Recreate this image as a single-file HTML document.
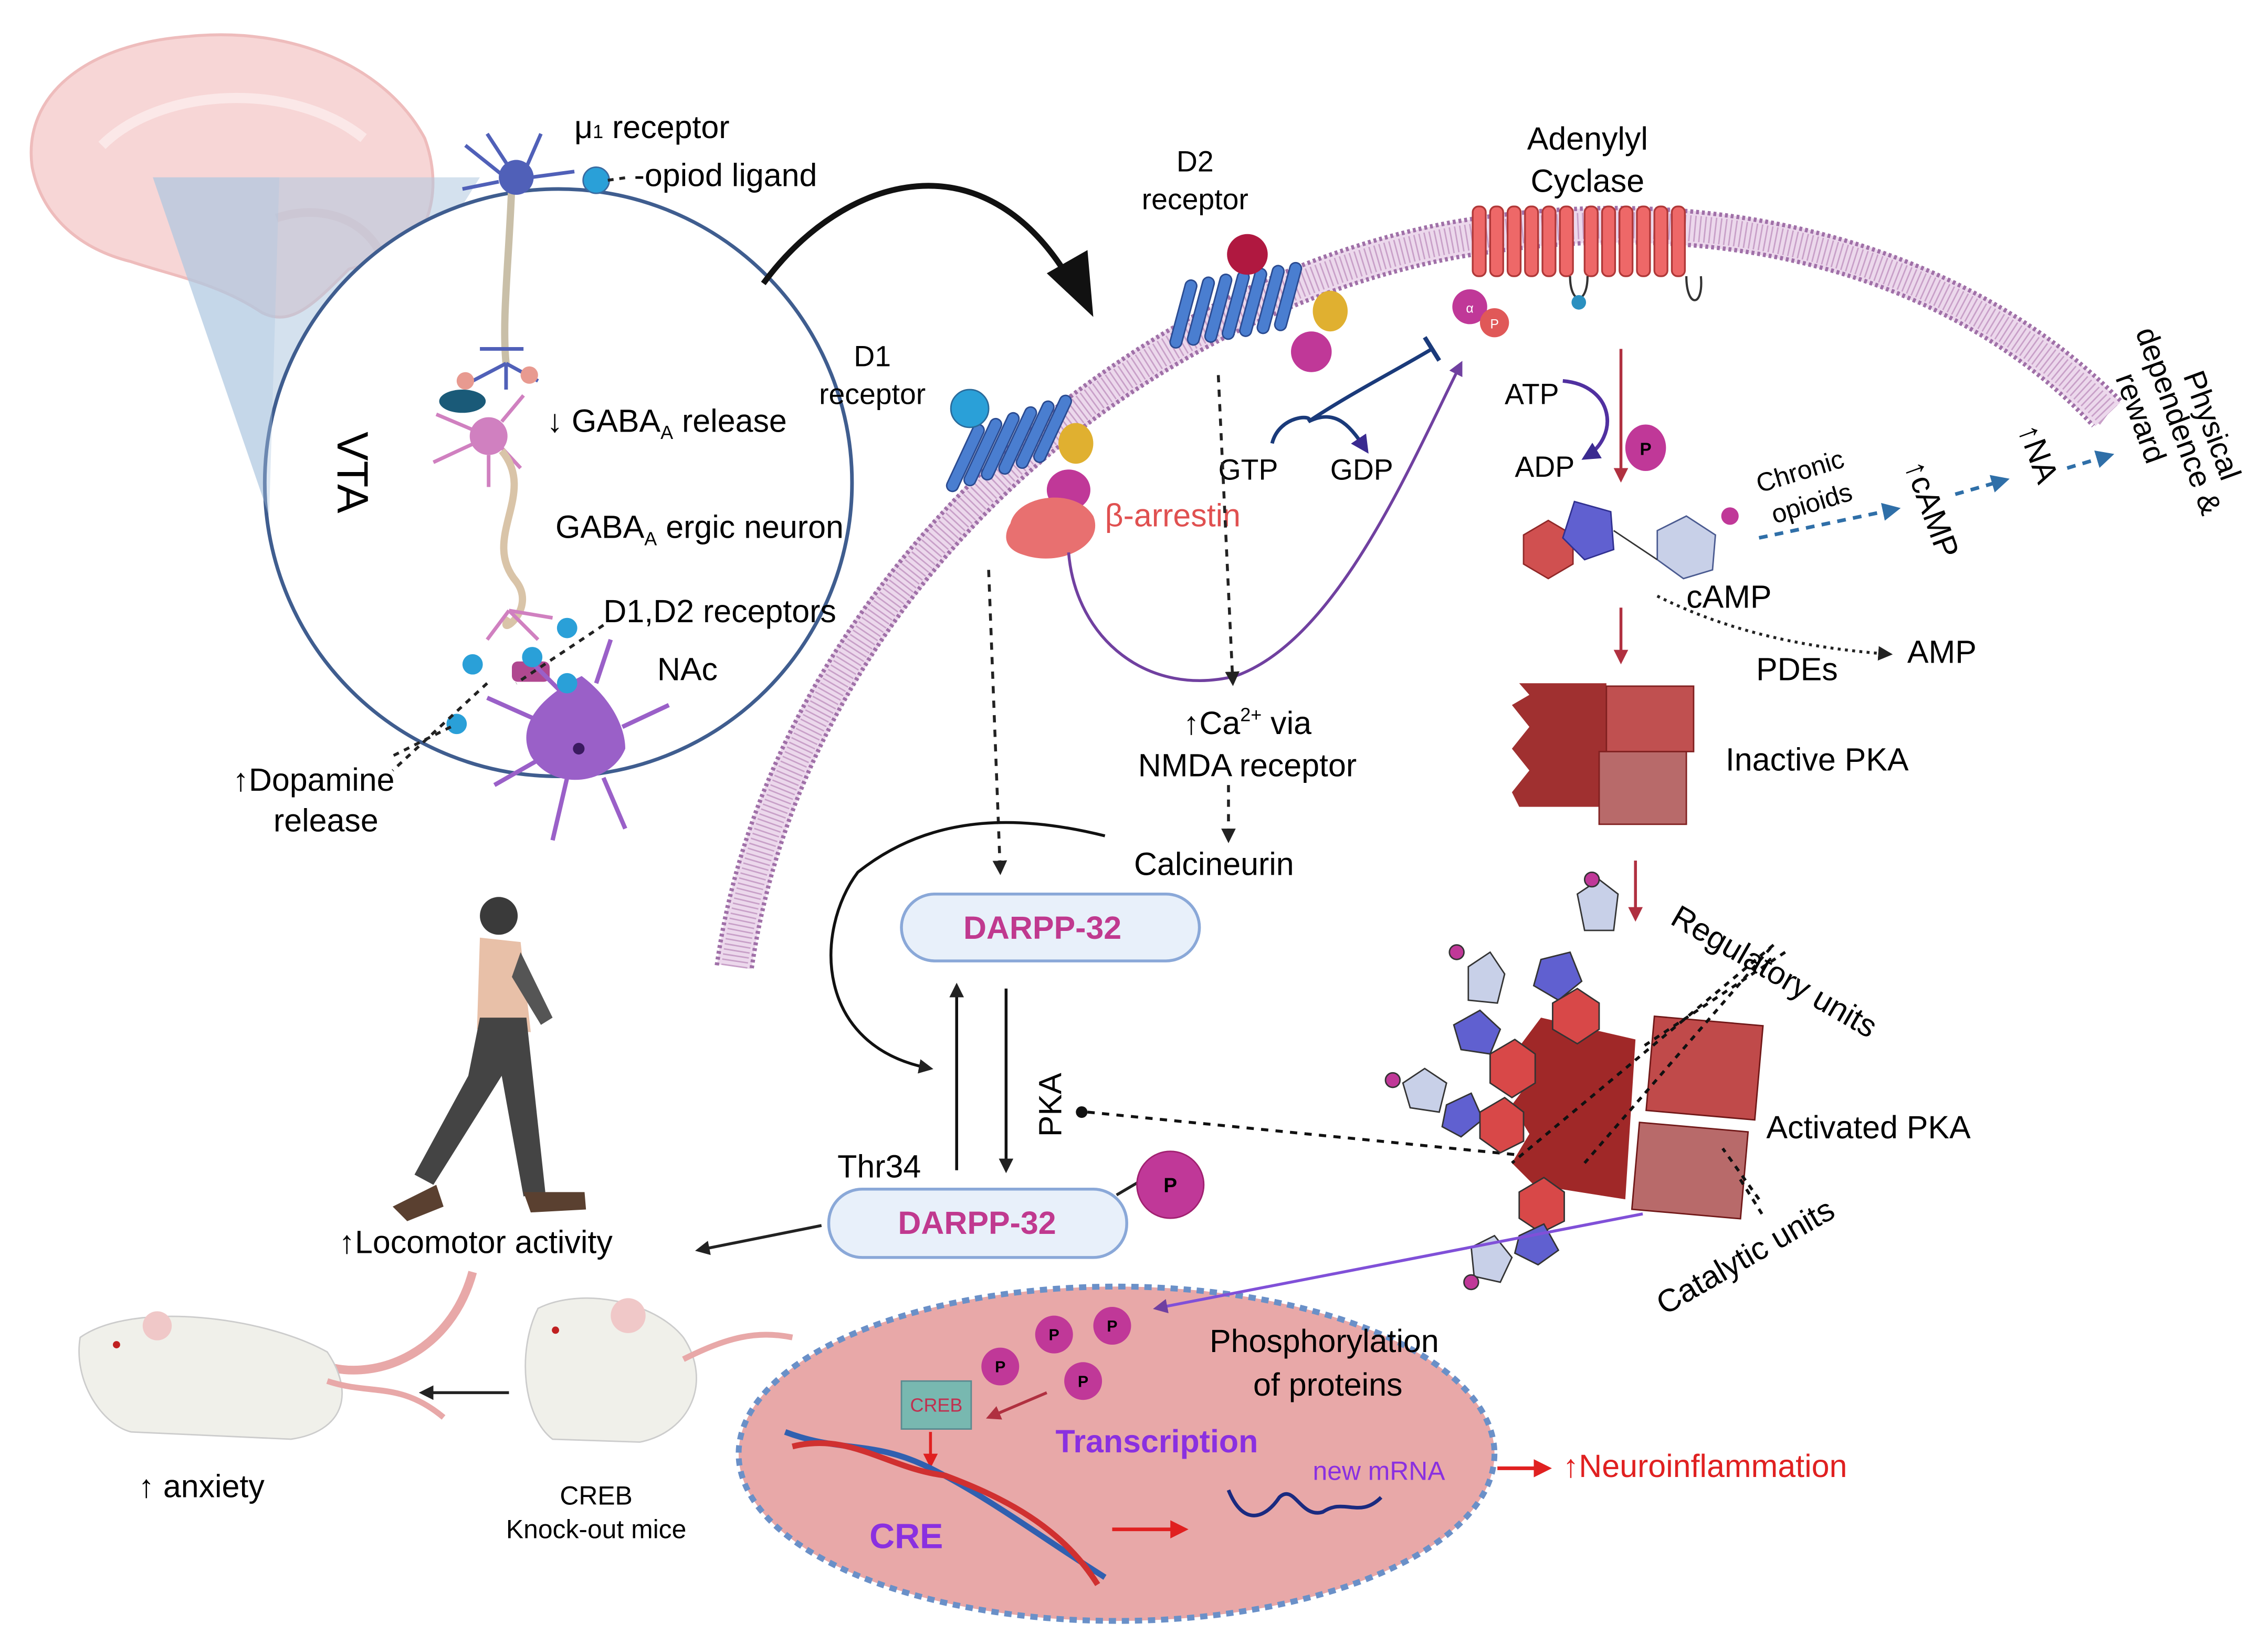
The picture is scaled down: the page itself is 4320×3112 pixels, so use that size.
<!DOCTYPE html>
<html><head><meta charset="utf-8"><style>html,body{margin:0;padding:0;background:#fff}svg{display:block}</style></head>
<body>
<svg xmlns="http://www.w3.org/2000/svg" width="4320" height="3112" viewBox="0 0 1560 1124" font-family="Liberation Sans, sans-serif">
<defs>
<marker id="ab" viewBox="0 0 10 10" refX="8" refY="5" markerWidth="5" markerHeight="5" orient="auto"><path d="M0,0L10,5L0,10z" fill="#222"/></marker>
<marker id="ar" viewBox="0 0 10 10" refX="8" refY="5" markerWidth="5" markerHeight="5" orient="auto"><path d="M0,0L10,5L0,10z" fill="#b03040"/></marker>
<marker id="aR" viewBox="0 0 10 10" refX="8" refY="5" markerWidth="5" markerHeight="5" orient="auto"><path d="M0,0L10,5L0,10z" fill="#e02020"/></marker>
<marker id="abl" viewBox="0 0 10 10" refX="8" refY="5" markerWidth="5" markerHeight="5" orient="auto"><path d="M0,0L10,5L0,10z" fill="#2f6fa8"/></marker>
<marker id="ap" viewBox="0 0 10 10" refX="8" refY="5" markerWidth="5" markerHeight="5" orient="auto"><path d="M0,0L10,5L0,10z" fill="#7040a0"/></marker>
<marker id="adk" viewBox="0 0 10 10" refX="8" refY="5" markerWidth="5" markerHeight="5" orient="auto"><path d="M0,0L10,5L0,10z" fill="#3a2a90"/></marker>
</defs>
<rect width="1560" height="1124" fill="#fff"/>
<!-- brain -->
<path d="M22,115 C15,65 60,30 130,25 C200,18 265,45 292,95 C305,130 295,165 270,178 L240,185 C215,210 200,225 180,215 C150,195 120,190 90,180 C50,170 28,145 22,115z" fill="#f7d6d6" stroke="#eebcbc" stroke-width="2"/>
<path d="M70,100 C110,60 200,55 250,95" fill="none" stroke="#fbe8e8" stroke-width="7"/>
<path d="M190,150 C220,140 250,150 262,175" fill="none" stroke="#eec6c6" stroke-width="6"/>
<polygon points="105,122 330,122 185,355" fill="#b0c8e0" opacity="0.55"/>
<!-- VTA circle -->
<circle cx="384" cy="332" r="202" fill="#fff" stroke="#3f5d8f" stroke-width="2.5"/>
<polygon points="105,122 192,122 185,355" fill="#b0c8e0" opacity="0.4"/>
<!-- neurons -->
<path d="M352,125 C350,180 345,220 348,250" stroke="#c9bfa8" stroke-width="5" fill="none"/>
<circle cx="355" cy="122" r="12" fill="#5060b8"/>
<g stroke="#5060b8" stroke-width="2.5" fill="none"><path d="M345,120 L320,100 M350,115 L335,92 M362,115 L372,92 M365,122 L395,118 M343,125 L318,130 M348,250 L325,262 M348,250 L370,262 M348,250 L348,268 M330,240 L360,240"/></g>
<circle cx="410" cy="124" r="9" fill="#2aa0d8" stroke="#3a6aa0"/>
<circle cx="320" cy="262" r="6" fill="#e89a90"/><circle cx="364" cy="258" r="6" fill="#e89a90"/>
<ellipse cx="318" cy="276" rx="16" ry="8" fill="#1a5a78"/>
<circle cx="336" cy="300" r="13" fill="#d080c0"/>
<g stroke="#d080c0" stroke-width="2.5" fill="none"><path d="M326,296 L300,285 M326,305 L298,318 M345,290 L360,272 M345,308 L358,322 M336,313 L336,335"/></g>
<path d="M345,310 C370,340 330,370 355,400 C370,420 340,440 350,425" stroke="#d9c4a8" stroke-width="5" fill="none"/>
<g stroke="#d080c0" stroke-width="2.5" fill="none"><path d="M350,420 L335,440 M350,420 L370,440 M350,420 L380,425"/></g>
<rect x="352" y="455" width="26" height="14" rx="4" fill="#b04890"/>
<path d="M400,465 C420,480 430,500 430,515 C420,540 380,545 365,520 C355,500 370,480 400,465z" fill="#9a60c8"/>
<circle cx="398" cy="515" r="4" fill="#3a1a60"/>
<g stroke="#9a60c8" stroke-width="3" fill="none"><path d="M380,500 L335,480 M375,520 L340,540 M390,535 L380,578 M415,535 L430,570 M428,500 L460,485 M410,470 L420,440 M390,480 L365,455"/></g>
<g fill="#2aa0d8"><circle cx="390" cy="432" r="7"/><circle cx="325" cy="457" r="7"/><circle cx="366" cy="452" r="7"/><circle cx="390" cy="470" r="7"/><circle cx="314" cy="498" r="7"/></g>
<g stroke="#222" stroke-width="2" stroke-dasharray="4,4" fill="none"><path d="M418,124 L432,122"/><path d="M415,430 L355,470"/><path d="M335,470 L270,530"/><path d="M310,500 L270,520"/></g>
<text x="395" y="95" font-size="22">μ<tspan font-size="13">1</tspan> receptor</text>
<text x="436" y="128" font-size="22">-opiod ligand</text>
<text transform="translate(232,325) rotate(90)" font-size="30" text-anchor="middle">VTA</text>
<text x="376" y="297" font-size="22">↓ GABA<tspan font-size="13" dy="5">A</tspan><tspan dy="-5"> release</tspan></text>
<text x="382" y="370" font-size="22">GABA<tspan font-size="13" dy="5">A</tspan><tspan dy="-5"> ergic neuron</tspan></text>
<text x="415" y="428" font-size="22">D1,D2 receptors</text>
<text x="452" y="468" font-size="22">NAc</text>
<text x="160" y="544" font-size="22">↑Dopamine</text>
<text x="188" y="572" font-size="22">release</text>
<!-- big black arrow -->
<path d="M525,195 C580,120 680,90 740,200" fill="none" stroke="#111" stroke-width="4"/>
<path d="M720,188 L752,218 L748,172z" fill="#111"/>
<!-- membrane -->
<g fill="none">
<path d="M505,665 C540,420 760,210 1000,165 C1200,130 1360,190 1450,285" stroke="#ecd8ec" stroke-width="24"/>
<path d="M505,665 C540,420 760,210 1000,165 C1200,130 1360,190 1450,285" stroke="#c8a0c8" stroke-width="18" stroke-dasharray="1,2.5"/>
<path d="M493,664 C528,416 756,198 998,153 C1200,118 1366,180 1460,277" stroke="#a070a8" stroke-width="3" stroke-dasharray="2,2"/>
<path d="M517,666 C552,424 764,222 1002,177 C1200,142 1354,200 1440,293" stroke="#a070a8" stroke-width="3" stroke-dasharray="2,2"/>
</g>
<!-- adenylyl cyclase -->
<g fill="#ee6868" stroke="#b03838" stroke-width="1.2">
<rect x="1013" y="142" width="9" height="48" rx="4"/><rect x="1025" y="142" width="9" height="48" rx="4"/><rect x="1037" y="142" width="9" height="48" rx="4"/><rect x="1049" y="142" width="9" height="48" rx="4"/><rect x="1061" y="142" width="9" height="48" rx="4"/><rect x="1073" y="142" width="9" height="48" rx="4"/>
<rect x="1090" y="142" width="9" height="48" rx="4"/><rect x="1102" y="142" width="9" height="48" rx="4"/><rect x="1114" y="142" width="9" height="48" rx="4"/><rect x="1126" y="142" width="9" height="48" rx="4"/><rect x="1138" y="142" width="9" height="48" rx="4"/><rect x="1150" y="142" width="9" height="48" rx="4"/>
</g>
<path d="M1080,190 C1080,210 1092,210 1092,190 M1160,190 C1160,212 1172,212 1170,190" fill="none" stroke="#333" stroke-width="1.5"/>
<circle cx="1086" cy="208" r="5" fill="#2a90c0"/>
<circle cx="1011" cy="211" r="12" fill="#c03898"/><circle cx="1028" cy="222" r="10" fill="#e05858"/>
<text x="1011" y="215" font-size="9" fill="#fff" text-anchor="middle">α</text><text x="1028" y="226" font-size="9" fill="#fff" text-anchor="middle">P</text>
<text x="1092" y="103" font-size="22" text-anchor="middle">Adenylyl</text>
<text x="1092" y="132" font-size="22" text-anchor="middle">Cyclase</text>
<!-- D2 receptor -->
<g fill="#4a7ed0" stroke="#2a4a90" stroke-width="1"><rect x="810" y="192" width="8" height="48" rx="4" transform="rotate(15 814 216)"/><rect x="822" y="190" width="8" height="48" rx="4" transform="rotate(15 826 214)"/><rect x="834" y="188" width="8" height="48" rx="4" transform="rotate(15 838 212)"/><rect x="846" y="186" width="8" height="48" rx="4" transform="rotate(15 850 210)"/><rect x="858" y="184" width="8" height="48" rx="4" transform="rotate(15 862 208)"/><rect x="870" y="182" width="8" height="48" rx="4" transform="rotate(15 874 206)"/><rect x="882" y="180" width="8" height="48" rx="4" transform="rotate(15 886 204)"/></g>
<circle cx="858" cy="175" r="14" fill="#b01840"/>
<ellipse cx="915" cy="214" rx="12" ry="14" fill="#e0b030"/><ellipse cx="902" cy="242" rx="14" ry="14" fill="#c03898"/>
<text x="822" y="118" font-size="20" text-anchor="middle">D2</text><text x="822" y="144" font-size="20" text-anchor="middle">receptor</text>
<!-- D1 receptor -->
<g fill="#4a7ed0" stroke="#2a4a90" stroke-width="1"><rect x="660" y="290" width="8" height="50" rx="4" transform="rotate(25 664 315)"/><rect x="672" y="286" width="8" height="50" rx="4" transform="rotate(25 676 311)"/><rect x="684" y="282" width="8" height="50" rx="4" transform="rotate(25 688 307)"/><rect x="696" y="278" width="8" height="50" rx="4" transform="rotate(25 700 303)"/><rect x="708" y="274" width="8" height="50" rx="4" transform="rotate(25 712 299)"/><rect x="720" y="270" width="8" height="50" rx="4" transform="rotate(25 724 295)"/></g>
<circle cx="667" cy="281" r="13" fill="#2aa0d8" stroke="#2a6a9a"/>
<ellipse cx="740" cy="305" rx="12" ry="14" fill="#e0b030"/><ellipse cx="735" cy="337" rx="15" ry="14" fill="#c03898"/>
<path d="M695,360 C700,340 740,335 752,355 C760,375 730,390 705,382 C690,378 690,368 695,360z" fill="#e87070"/>
<text x="760" y="362" font-size="22" fill="#e05050">β-arrestin</text>
<text x="600" y="252" font-size="20" text-anchor="middle">D1</text><text x="600" y="278" font-size="20" text-anchor="middle">receptor</text>
<!-- GTP/GDP -->
<path d="M875,305 C880,285 905,285 900,290 C920,280 930,295 940,310" fill="none" stroke="#1a3a7a" stroke-width="2.5" marker-end="url(#adk)"/>
<path d="M900,290 C930,270 960,255 985,240" fill="none" stroke="#1a3a7a" stroke-width="2.5"/>
<path d="M980,232 L990,248" stroke="#1a3a7a" stroke-width="3"/>
<text x="838" y="330" font-size="20">GTP</text><text x="915" y="330" font-size="20">GDP</text>
<path d="M735,380 C740,440 790,480 850,465 C920,440 970,320 1005,250" fill="none" stroke="#7040a0" stroke-width="2" marker-end="url(#ap)"/>
<!-- dashed down -->
<g stroke="#222" stroke-width="2" stroke-dasharray="5,5" fill="none">
<path d="M680,392 L688,600" marker-end="url(#ab)"/>
<path d="M838,258 L848,470" marker-end="url(#ab)"/>
<path d="M845,540 L845,578" marker-end="url(#ab)"/>
</g>
<text x="858" y="505" font-size="22" text-anchor="middle">↑Ca<tspan font-size="13" dy="-9">2+</tspan><tspan dy="9"> via</tspan></text>
<text x="858" y="534" font-size="22" text-anchor="middle">NMDA receptor</text>
<text x="780" y="602" font-size="22">Calcineurin</text>
<!-- DARPP -->
<rect x="620" y="615" width="205" height="46" rx="23" fill="#e8f0fa" stroke="#8aa8d8" stroke-width="2"/>
<text x="717" y="640" font-size="22" font-weight="bold" fill="#c0398f" text-anchor="middle" dominant-baseline="middle">DARPP-32</text>
<rect x="570" y="818" width="205" height="47" rx="23" fill="#e8f0fa" stroke="#8aa8d8" stroke-width="2"/>
<text x="672" y="843" font-size="22" font-weight="bold" fill="#c0398f" text-anchor="middle" dominant-baseline="middle">DARPP-32</text>
<path d="M768,822 L785,812" stroke="#222" stroke-width="2"/>
<circle cx="805" cy="815" r="23" fill="#c03898" stroke="#a02070"/>
<text x="805" y="820" font-size="14" font-weight="bold" text-anchor="middle">P</text>
<path d="M658,805 L658,678" stroke="#111" stroke-width="2" marker-end="url(#ab)"/>
<path d="M692,680 L692,805" stroke="#111" stroke-width="2" marker-end="url(#ab)"/>
<path d="M760,575 C700,560 640,560 590,600 C560,640 560,720 640,735" fill="none" stroke="#111" stroke-width="2" marker-end="url(#ab)"/>
<text x="576" y="810" font-size="22">Thr34</text>
<text transform="translate(730,760) rotate(-90)" font-size="22" text-anchor="middle">PKA</text>
<circle cx="744" cy="765" r="4" fill="#111"/>
<path d="M748,765 L1050,795" stroke="#111" stroke-width="2" stroke-dasharray="5,5"/>
<!-- ATP/cAMP -->
<text x="1035" y="278" font-size="20">ATP</text><text x="1042" y="328" font-size="20">ADP</text>
<path d="M1075,262 C1110,265 1115,300 1090,315" fill="none" stroke="#5030a0" stroke-width="2.5" marker-end="url(#adk)"/>
<path d="M1115,240 L1115,330" stroke="#b03040" stroke-width="2" marker-end="url(#ar)"/>
<ellipse cx="1132" cy="308" rx="14" ry="16" fill="#c03898"/><text x="1132" y="313" font-size="12" font-weight="bold" text-anchor="middle">P</text>
<polygon points="1058,380 1075,370 1092,380 1092,400 1075,410 1058,400" fill="#d05050" stroke="#902828" transform="translate(-10,-12) scale(1.0)"/>
<polygon points="1083,345 1108,352 1110,378 1090,385 1075,370" fill="#6060d0" stroke="#303090"/>
<polygon points="1140,365 1160,355 1180,368 1178,392 1158,398 1140,385" fill="#c8d0e8" stroke="#4a5a90"/>
<path d="M1110,365 L1140,385" stroke="#333"/>
<circle cx="1190" cy="355" r="6" fill="#c03898"/>
<text x="1160" y="418" font-size="22">cAMP</text>
<path d="M1140,410 C1180,430 1230,445 1300,450" fill="none" stroke="#222" stroke-width="2" stroke-dasharray="2,3" marker-end="url(#ab)"/>
<text x="1208" y="468" font-size="22">PDEs</text><text x="1312" y="456" font-size="22">AMP</text>
<path d="M1115,418 L1115,455" stroke="#b03040" stroke-width="2" marker-end="url(#ar)"/>
<text transform="translate(1240,330) rotate(-17)" font-size="18" text-anchor="middle">Chronic</text>
<text transform="translate(1248,352) rotate(-17)" font-size="18" text-anchor="middle">opioids</text>
<path d="M1210,370 L1305,350" stroke="#2f6fa8" stroke-width="2.5" stroke-dasharray="6,5" marker-end="url(#abl)"/>
<text transform="translate(1310,320) rotate(70)" font-size="22">↑cAMP</text>
<path d="M1345,340 L1380,330" stroke="#2f6fa8" stroke-width="2.5" stroke-dasharray="6,5" marker-end="url(#abl)"/>
<text transform="translate(1388,295) rotate(70)" font-size="22">↑NA</text>
<path d="M1422,322 L1452,313" stroke="#2f6fa8" stroke-width="2.5" stroke-dasharray="6,5" marker-end="url(#abl)"/>
<text transform="translate(1515,295) rotate(70)" font-size="21" text-anchor="middle">Physical</text>
<text transform="translate(1492,292) rotate(70)" font-size="21" text-anchor="middle">dependence &amp;</text>
<text transform="translate(1466,290) rotate(70)" font-size="21" text-anchor="middle">reward</text>
<!-- inactive PKA -->
<path d="M1045,470 L1105,470 L1105,555 L1045,555 L1040,545 L1052,530 L1040,515 L1052,500 L1040,485 L1052,478z" fill="#a03030"/>
<rect x="1105" y="472" width="60" height="45" fill="#c05050" stroke="#802020"/>
<rect x="1100" y="517" width="60" height="50" fill="#b86a6a" stroke="#802020"/>
<text x="1187" y="530" font-size="22">Inactive PKA</text>
<path d="M1125,592 L1125,632" stroke="#b03040" stroke-width="2" marker-end="url(#ar)"/>
<!-- activated PKA -->
<path d="M1060,700 L1125,715 L1118,825 L1055,815 L1040,800 L1052,780 L1040,760 L1055,740 L1045,720z" fill="#a02828"/>
<rect x="1135" y="702" width="75" height="65" fill="#c04a4a" stroke="#701818" transform="rotate(5 1170 735)"/>
<rect x="1125" y="775" width="75" height="60" fill="#b86a6a" stroke="#701818" transform="rotate(5 1160 805)"/>
<g stroke="#333" stroke-width="1">
<polygon points="1085,615 1100,605 1113,615 1110,640 1090,640" fill="#c8d0e8"/><circle cx="1095" cy="605" r="5" fill="#c03898"/>
<polygon points="1010,665 1025,655 1035,670 1030,690 1010,688" fill="#c8d0e8"/><circle cx="1002" cy="655" r="5" fill="#c03898"/>
<polygon points="1060,660 1080,655 1088,675 1072,688 1055,678" fill="#6060d0"/>
<polygon points="1068,690 1085,680 1100,690 1100,708 1085,718 1068,708" fill="#d84848"/>
<polygon points="1000,705 1018,695 1032,708 1025,725 1005,722" fill="#6060d0"/>
<polygon points="1025,725 1042,715 1056,725 1056,745 1040,755 1025,745" fill="#d84848"/>
<polygon points="965,745 980,735 995,745 990,765 970,762" fill="#c8d0e8"/><circle cx="958" cy="743" r="5" fill="#c03898"/>
<polygon points="995,760 1012,752 1020,770 1005,782 992,775" fill="#6060d0"/>
<polygon points="1018,765 1035,755 1048,765 1048,785 1032,793 1018,783" fill="#d84848"/>
<polygon points="1045,820 1062,810 1076,820 1076,840 1060,848 1045,838" fill="#d84848"/>
<polygon points="1045,850 1062,842 1072,860 1058,870 1042,862" fill="#6060d0"/>
<polygon points="1012,858 1028,850 1040,865 1032,882 1014,878" fill="#c8d0e8"/><circle cx="1012" cy="882" r="5" fill="#c03898"/>
</g>
<g stroke="#111" stroke-width="2" stroke-dasharray="4,4" fill="none"><path d="M1220,650 L1040,800"/><path d="M1218,652 L1090,800"/><path d="M1228,655 L1130,720"/><path d="M1210,825 L1185,790"/><path d="M1212,835 L1195,808"/></g>
<text transform="translate(1148,635) rotate(30)" font-size="22">Regulatory  units</text>
<text x="1215" y="783" font-size="22">Activated  PKA</text>
<text transform="translate(1145,905) rotate(-30)" font-size="22">Catalytic units</text>
<!-- nucleus -->
<ellipse cx="768" cy="1000" rx="260" ry="115" fill="#e8a8a8" stroke="#6a90c8" stroke-width="4" stroke-dasharray="5,4"/>
<path d="M1130,835 L795,900" stroke="#8050d8" stroke-width="2" marker-end="url(#ap)"/>
<g><circle cx="725" cy="918" r="13" fill="#c03898"/><circle cx="765" cy="912" r="13" fill="#c03898"/><circle cx="688" cy="940" r="13" fill="#c03898"/><circle cx="745" cy="950" r="13" fill="#c03898"/></g>
<g font-size="11" font-weight="bold" text-anchor="middle"><text x="725" y="922">P</text><text x="765" y="916">P</text><text x="688" y="944">P</text><text x="745" y="954">P</text></g>
<rect x="620" y="950" width="48" height="33" fill="#78b8b0" stroke="#5a8a90"/>
<text x="644" y="971" font-size="13" fill="#c03050" text-anchor="middle">CREB</text>
<path d="M720,958 L680,975" stroke="#b03040" stroke-width="2" marker-end="url(#ar)"/>
<path d="M640,985 L640,1008" stroke="#e02020" stroke-width="2" marker-end="url(#aR)"/>
<path d="M540,985 C580,1000 600,990 640,1010 C680,1030 720,1060 760,1085" fill="none" stroke="#3060b0" stroke-width="4"/>
<path d="M545,995 C585,985 610,1010 650,1015 C690,1030 730,1050 755,1090" fill="none" stroke="#d03030" stroke-width="4"/>
<path d="M765,1052 L815,1052" stroke="#e02020" stroke-width="2.5" marker-end="url(#aR)"/>
<path d="M845,1025 C855,1050 870,1045 880,1030 C890,1020 895,1045 910,1040 C925,1030 935,1045 950,1030" fill="none" stroke="#1a2a80" stroke-width="2.5"/>
<text x="832" y="930" font-size="22">Phosphorylation</text><text x="862" y="960" font-size="22">of proteins</text>
<text x="726" y="999" font-size="22" font-weight="bold" fill="#8a30e0">Transcription</text>
<text x="903" y="1018" font-size="18" fill="#8a30e0">new mRNA</text>
<text x="598" y="1065" font-size="24" font-weight="bold" fill="#8a30e0">CRE</text>
<path d="M1030,1010 L1065,1010" stroke="#e02020" stroke-width="2.5" marker-end="url(#aR)"/>
<text x="1075" y="1016" font-size="22" fill="#e02020">↑Neuroinflammation</text>
<!-- walking person -->
<circle cx="343" cy="630" r="13" fill="#3a3a3a"/>
<path d="M330,645 L358,648 L365,710 L328,708z" fill="#e8c0a8"/>
<path d="M358,655 L380,700 L372,705 L352,672z" fill="#555"/>
<path d="M330,700 L362,700 L375,820 L360,823 L345,740 L298,815 L285,808 L322,740z" fill="#444"/>
<path d="M270,830 L300,815 L305,830 L280,840z M360,820 L402,820 L403,832 L365,834z" fill="#5a4030"/>
<text x="233" y="862" font-size="22">↑Locomotor activity</text>
<path d="M565,843 L480,860" stroke="#222" stroke-width="2" marker-end="url(#ab)"/>
<path d="M325,875 C310,930 260,950 225,940" fill="none" stroke="#e8a8a8" stroke-width="6"/>
<!-- mice -->
<path d="M55,920 C90,895 180,905 225,930 C245,960 235,985 200,990 L90,985 C70,980 50,950 55,920z" fill="#f0f0ea" stroke="#ccc"/>
<circle cx="108" cy="912" r="10" fill="#f0c8c8"/><circle cx="80" cy="925" r="2.5" fill="#c02020"/>
<path d="M225,950 C255,960 275,950 305,975" fill="none" stroke="#e8a8a8" stroke-width="4"/>
<path d="M370,900 C400,885 450,895 470,920 C490,950 475,985 440,992 L380,990 C360,975 355,930 370,900z" fill="#f0f0ea" stroke="#ccc"/>
<circle cx="432" cy="905" r="12" fill="#f0c8c8"/><circle cx="382" cy="915" r="2.5" fill="#c02020"/>
<path d="M470,935 C500,920 520,915 545,920" fill="none" stroke="#e8a8a8" stroke-width="4"/>
<path d="M350,958 L290,958" stroke="#222" stroke-width="2" marker-end="url(#ab)"/>
<text x="95" y="1030" font-size="22">↑ anxiety</text>
<text x="410" y="1035" font-size="18" text-anchor="middle">CREB</text>
<text x="410" y="1058" font-size="18" text-anchor="middle">Knock-out mice</text>
</svg>
</body></html>
